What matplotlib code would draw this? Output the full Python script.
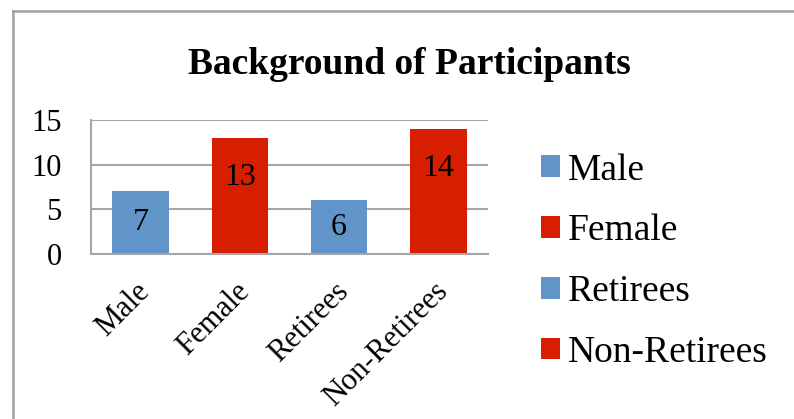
import matplotlib

matplotlib.use("Agg")

import matplotlib.pyplot as plt
from matplotlib.lines import Line2D
from matplotlib.patches import Patch
from matplotlib.transforms import ScaledTranslation

categories = ["Male", "Female", "Retirees", "Non-Retirees"]
counts = [7, 13, 6, 14]
y_ticks = [0, 5, 10, 15]

blue = "#6195C9"
red = "#D81E00"
bar_colors = [blue, red, blue, red]
grid_gray = "#A6A6A6"

plt.rcParams["font.family"] = ["Liberation Serif", "DejaVu Serif"]

fig = plt.figure(figsize=(7.94, 4.19), dpi=100)
ax = fig.add_axes([0.1146, 0.3938, 0.5, 0.3198])

positions = list(range(len(categories)))
ax.bar(positions, counts, width=0.57, color=bar_colors, zorder=2)

# value labels inside the bars
for pos, value in zip(positions, counts):
    ax.text(pos, max(value / 2, value - 4.4), str(value), ha="center",
            va="center", fontsize=23, color="black", zorder=3)

ax.set_xlim(-0.5, len(categories) - 0.5)
ax.set_ylim(0, 15)
ax.set_yticks(y_ticks)
ax.set_yticklabels([str(t) for t in y_ticks], fontsize=22)
ax.tick_params(axis="y", length=0, pad=21)
ax.yaxis.grid(True, color=grid_gray, linewidth=1.5, zorder=0)
ax.set_axisbelow(True)

ax.set_xticks(positions)
ax.set_xticklabels(categories, fontsize=22, rotation=45, ha="right",
                   va="center", rotation_mode="anchor")
ax.tick_params(axis="x", length=0, pad=24)
shift = ScaledTranslation(5 / 100, 0, fig.dpi_scale_trans)
for label in ax.get_xticklabels():
    label.set_transform(label.get_transform() + shift)

for side in ("top", "right"):
    ax.spines[side].set_visible(False)
for side in ("left", "bottom"):
    ax.spines[side].set_color(grid_gray)
    ax.spines[side].set_linewidth(1.5)

fig.text(0.516, 0.845, "Background of Participants", ha="center",
         va="center", fontsize=27, fontweight="bold")

handles = [Patch(facecolor=c) for c in bar_colors]
fig.legend(handles, categories, loc="center left",
           bbox_to_anchor=(0.6814, 0.376), frameon=False, fontsize=27,
           handlelength=0.51, handleheight=0.51, handletextpad=0.21,
           labelspacing=0.7, borderpad=0, borderaxespad=0)

# outer chart frame (only top and left edges are visible)
fig.add_artist(Line2D([13 / 794, 1.0], [1 - 11 / 419, 1 - 11 / 419],
                      transform=fig.transFigure, color="#A0A0A0",
                      linewidth=1.8))
fig.add_artist(Line2D([13 / 794, 13 / 794], [0.0, 1 - 11 / 419],
                      transform=fig.transFigure, color="#A0A0A0",
                      linewidth=1.8))

fig.savefig("out.png", dpi=100)
plt.close(fig)
